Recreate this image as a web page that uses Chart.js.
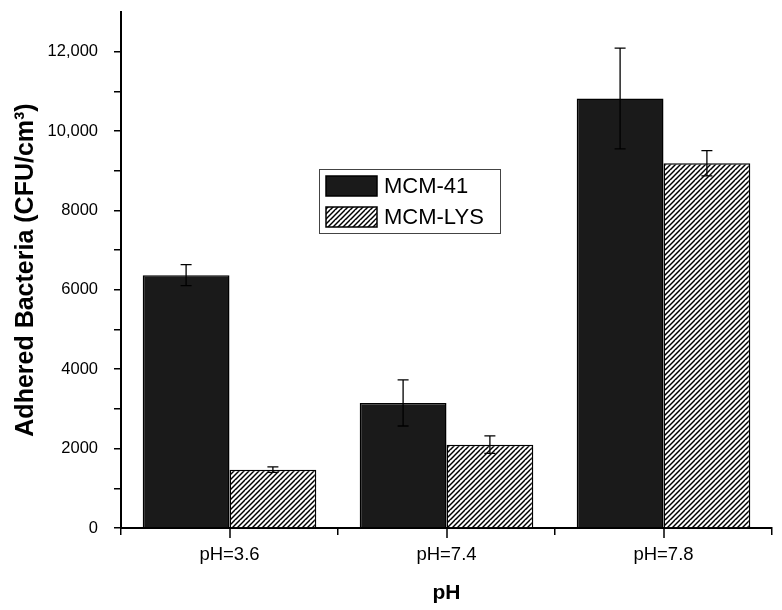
<!DOCTYPE html>
<html>
<head>
<meta charset="utf-8">
<script src="https://cdn.jsdelivr.net/npm/chart.js@4"></script>
<style>
  body { margin: 0; background: #fff; }
  canvas { display: block; }
</style>
</head>
<body>
<canvas id="chart" width="782" height="610"></canvas>
<script>
const categories = ['pH=3.6', 'pH=7.4', 'pH=7.8'];
const mcm41 = [6370, 3150, 10820];
const mcm41Err = [265, 580, 1270];
const mcmLys = [1470, 2100, 9190];
const mcmLysErr = [70, 220, 320];
const seriesNames = ['MCM-41', 'MCM-LYS'];

const FONT = 'Arial, "Liberation Sans", sans-serif';

const hatch = (() => {
  const c = document.createElement('canvas');
  c.width = 10;
  c.height = 10;
  const g = c.getContext('2d');
  g.fillStyle = '#fff';
  g.fillRect(0, 0, 10, 10);
  g.strokeStyle = '#000';
  g.lineWidth = 1.5;
  for (let k = -10; k <= 30; k += 5) {
    g.beginPath();
    g.moveTo(k - 10, 20);
    g.lineTo(k + 10, 0);
    g.stroke();
  }
  return document.getElementById('chart').getContext('2d').createPattern(c, 'repeat');
})();

const errorBars = {
  id: 'errorBars',
  afterDatasetsDraw(chart) {
    const { ctx } = chart;
    const y = chart.scales.y;
    const errs = [mcm41Err, mcmLysErr];
    ctx.save();
    ctx.strokeStyle = '#000';
    ctx.lineWidth = 1.3;
    chart.data.datasets.forEach((ds, i) => {
      chart.getDatasetMeta(i).data.forEach((bar, j) => {
        const v = ds.data[j];
        const hi = y.getPixelForValue(v + errs[i][j]);
        const lo = y.getPixelForValue(v - errs[i][j]);
        ctx.beginPath();
        ctx.moveTo(bar.x, hi);
        ctx.lineTo(bar.x, lo);
        ctx.moveTo(bar.x - 5.5, hi);
        ctx.lineTo(bar.x + 5.5, hi);
        ctx.moveTo(bar.x - 5.5, lo);
        ctx.lineTo(bar.x + 5.5, lo);
        ctx.stroke();
      });
    });
    // longer tick marks under category centres
    const x = chart.scales.x;
    const base = y.getPixelForValue(0);
    ctx.lineWidth = 1.5;
    categories.forEach((c, j) => {
      const px = Math.round(x.getPixelForValue(j));
      ctx.beginPath();
      ctx.moveTo(px, base);
      ctx.lineTo(px, base + 10);
      ctx.stroke();
    });
    ctx.restore();
  }
};

const boxLegend = {
  id: 'boxLegend',
  afterDraw(chart) {
    const { ctx } = chart;
    const left = 319, top = 169;
    ctx.save();
    ctx.strokeStyle = '#444';
    ctx.lineWidth = 1;
    ctx.strokeRect(left + 0.5, top + 0.5, 181, 64);
    ctx.font = '22px ' + FONT;
    ctx.textBaseline = 'middle';
    chart.data.datasets.forEach((ds, i) => {
      const sy = top + 7 + i * 31;
      ctx.fillStyle = ds.backgroundColor;
      ctx.fillRect(left + 7, sy, 51, 20);
      ctx.strokeStyle = '#000';
      ctx.lineWidth = 1.5;
      ctx.strokeRect(left + 7, sy, 51, 20);
      ctx.fillStyle = '#000';
      ctx.fillText(ds.label, left + 65, sy + 11);
    });
    ctx.restore();
  }
};

new Chart(document.getElementById('chart'), {
  type: 'bar',
  data: {
    labels: categories,
    datasets: [
      {
        label: seriesNames[0],
        data: mcm41,
        backgroundColor: '#1a1a1a',
        borderColor: '#000',
        borderWidth: 1.5,
      },
      {
        label: seriesNames[1],
        data: mcmLys,
        backgroundColor: hatch,
        borderColor: '#000',
        borderWidth: 1.5,
      },
    ],
  },
  options: {
    responsive: false,
    animation: false,
    layout: { padding: { top: 12, right: 10, left: 0, bottom: 0 } },
    categoryPercentage: 0.8,
    barPercentage: 1.0,
    plugins: {
      legend: { display: false },
      tooltip: { enabled: false },
    },
    scales: {
      x: {
        offset: true,
        afterFit: (s) => { s.height = 82; },
        border: { color: '#000', width: 2 },
        grid: {
          offset: true,
          drawOnChartArea: false,
          drawTicks: true,
          tickLength: 7,
          color: '#000',
          lineWidth: 1.5,
        },
        ticks: {
          color: '#000',
          font: { family: FONT, size: 18.5 },
          padding: 9,
          maxRotation: 0,
        },
        title: {
          display: true,
          text: 'pH',
          color: '#000',
          font: { family: FONT, size: 21, weight: 'bold' },
          padding: { top: 4, bottom: 4 },
        },
      },
      y: {
        min: 0,
        max: 13000,
        afterFit: (s) => {
          s.width = 121;
          s.paddingTop = 0;
          s.paddingBottom = 0;
        },
        border: { color: '#000', width: 2 },
        grid: {
          drawOnChartArea: false,
          drawTicks: true,
          tickLength: 7,
          lineWidth: 1.5,
          color: (c) => (c.tick && c.tick.value === 13000 ? 'rgba(0,0,0,0)' : '#000'),
        },
        ticks: {
          stepSize: 1000,
          color: '#000',
          padding: 16,
          font: { family: FONT, size: 16.5 },
          callback: (v) => {
            if (v % 2000 !== 0) return '';
            return v >= 10000 ? v.toLocaleString('en-US') : String(v);
          },
        },
        title: {
          display: true,
          text: 'Adhered Bacteria (CFU/cm³)',
          color: '#000',
          font: { family: FONT, size: 25, weight: 'bold' },
          padding: { top: 11, bottom: 0 },
        },
      },
    },
  },
  plugins: [errorBars, boxLegend],
});
</script>
</body>
</html>
